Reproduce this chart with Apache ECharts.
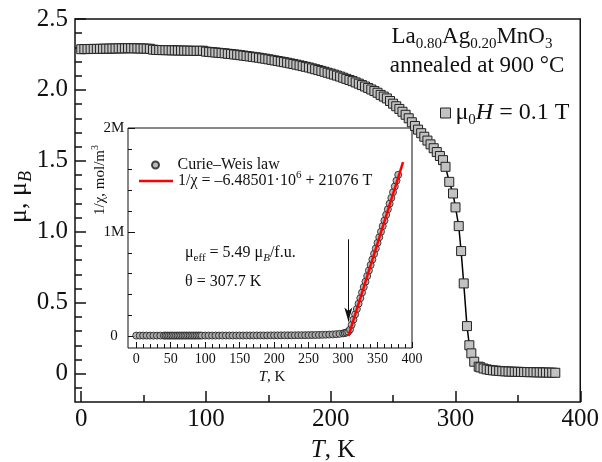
<!DOCTYPE html>
<html>
<head>
<meta charset="utf-8">
<script src="https://cdn.jsdelivr.net/npm/echarts@6/dist/echarts.min.js"></script>
<style>
html, body { margin: 0; padding: 0; background: #fff; }
#chart { width: 602px; height: 462px; }
</style>
</head>
<body>
<div id="chart"></div>
<script>
// Magnetic moment per formula unit vs temperature (mu0H = 0.1 T)
const tempK = [
  0, 2.5, 5, 7.5, 10, 12.5, 15, 17.5, 20, 22.5,
  25, 27.5, 30, 32.5, 35, 37.5, 40, 42.5, 45, 47.5,
  50, 52.5, 55, 57.5, 60, 62.5, 65, 67.5, 70, 72.5,
  75, 77.5, 80, 82.5, 85, 87.5, 90, 92.5, 95, 97.5,
  100, 102.5, 105, 107.5, 110, 112.5, 115, 117.5, 120, 122.5,
  125, 127.5, 130, 132.5, 135, 137.5, 140, 142.5, 145, 147.5,
  150, 152.5, 155, 157.5, 160, 162.5, 165, 167.5, 170, 172.5,
  175, 177.5, 180, 182.5, 185, 187.5, 190, 192.5, 195, 197.5,
  200, 202.5, 205, 207.5, 210, 212.5, 215, 217.5, 220, 222.5,
  225, 227.5, 230, 232.5, 235, 237.5, 240, 242.5, 245, 247.5,
  250, 252.5, 255, 257.5, 260, 262.5, 265, 267.5, 270, 272.5,
  275, 277.5, 280, 282.5, 285, 287.5, 290,
  292, 295, 298, 300, 302.6, 304.5, 306.6, 309.2, 311.1, 312.7, 315, 318.6,
  320, 322.5, 325, 327.5, 330, 332.5, 335, 337.5, 340, 342.5,
  345, 347.5, 350, 352.5, 355, 357.5, 360, 362.5, 365, 367.5,
  370, 372.5, 375, 377.5, 380
];
const momentMuB = [
  2.287, 2.288, 2.288, 2.289, 2.289, 2.289, 2.290, 2.290, 2.291, 2.291,
  2.292, 2.292, 2.293, 2.293, 2.293, 2.294, 2.294, 2.293, 2.293, 2.292,
  2.292, 2.291, 2.290, 2.284, 2.282, 2.281, 2.281, 2.280, 2.280, 2.279,
  2.279, 2.278, 2.278, 2.277, 2.277, 2.276, 2.276, 2.275, 2.276, 2.276,
  2.270, 2.268, 2.266, 2.264, 2.262, 2.260, 2.258, 2.255, 2.253, 2.250,
  2.248, 2.245, 2.242, 2.239, 2.236, 2.233, 2.230, 2.227, 2.223, 2.220,
  2.216, 2.212, 2.208, 2.204, 2.200, 2.196, 2.192, 2.187, 2.183, 2.178,
  2.173, 2.168, 2.163, 2.158, 2.152, 2.146, 2.140, 2.134, 2.128, 2.121,
  2.115, 2.108, 2.101, 2.094, 2.086, 2.078, 2.070, 2.062, 2.053, 2.044,
  2.034, 2.024, 2.014, 2.003, 1.992, 1.980, 1.965, 1.953, 1.940, 1.922,
  1.903, 1.885, 1.866, 1.846, 1.825, 1.800, 1.772, 1.746, 1.720, 1.695,
  1.670, 1.643, 1.616, 1.589, 1.562, 1.534, 1.505,
  1.458, 1.352, 1.270, 1.172, 1.040, 0.864, 0.636, 0.335, 0.200, 0.143, 0.084, 0.049,
  0.044, 0.036, 0.030, 0.026, 0.023, 0.021, 0.019, 0.017, 0.016, 0.015,
  0.014, 0.013, 0.013, 0.012, 0.011, 0.011, 0.010, 0.010, 0.009, 0.009,
  0.008, 0.008, 0.007, 0.007, 0.006
];

// Inverse susceptibility (mol/m^3) used for the Curie-Weiss analysis
const invChiT = [
  0, 5, 10, 15, 20, 25, 30, 35, 40,
  42.5, 45, 47.5, 50, 52.5, 55, 57.5, 60, 62.5, 65, 67.5,
  70, 72.5, 75, 77.5, 80, 82.5, 85, 87.5, 90, 92.5, 95,
  100, 105, 110, 115, 120, 125, 130, 135, 140, 145,
  150, 155, 160, 165, 170, 175, 180, 185, 190, 195,
  200, 205, 210, 215, 220, 225, 230, 235, 240, 245,
  250, 255, 260, 265, 270, 275, 280, 285, 290, 295, 300,
  302.5, 305, 307.5,
  310, 312.5, 315, 317.5, 320, 322.5, 325, 327.5, 330, 332.5,
  335, 337.5, 340, 342.5, 345, 347.5, 350, 352.5, 355, 357.5,
  360, 362.5, 365, 367.5, 370, 372.5, 375, 377.5, 380
];
const invChi = [
  4200, 4300, 4300, 4300, 4200, 4200, 4200, 4200, 4200,
  4300, 4300, 4300, 4400, 4400, 4400, 4400, 4400, 4400, 4400, 4500,
  4500, 4500, 4500, 4500, 4500, 4500, 4500, 4600, 4600, 4600, 4600,
  4600, 4700, 4700, 4800, 4800, 4900, 4900, 5000, 5100, 5100,
  5200, 5300, 5400, 5500, 5600, 5700, 5800, 5900, 6000, 6100,
  6300, 6400, 6600, 6800, 7000, 7200, 7500, 7800, 8100, 8500,
  8900, 9400, 10000, 10700, 11500, 12600, 14000, 15700, 18000, 21000, 25000,
  29000, 34000, 42000,
  62000, 108000, 158000, 208000, 260000, 311000, 364000, 418000, 471000, 523000,
  577000, 630000, 683000, 736000, 790000, 842000, 896000, 950000, 1003000, 1057000,
  1110000, 1165000, 1219000, 1273000, 1328000, 1383000, 1438000, 1494000, 1550000
];

// Curie-Weiss fit: 1/chi = intercept + slope * T
const fitIntercept = -6.48501e6;
const fitSlope = 21076;
const fitTRange = [307.7, 387];
const thetaK = 307.7;
const arrowFrom = 930000;
const arrowTo = 140000;

// Tick values
const mainXTicks = [0, 100, 200, 300, 400];
const mainXMinor = [50, 150, 250, 350];
const mainYTicks = [0, 0.5, 1.0, 1.5, 2.0, 2.5];
const insetXTicks = [0, 50, 100, 150, 200, 250, 300, 350, 400];
const insetYTicks = [0, 1e6, 2e6];
const insetYTickLabels = ['0', '1M', '2M'];

const INK = '#111';
const SERIF = '"Liberation Serif", "Times New Roman", serif';

function between(from, to, step, skipEvery) {
  const out = [];
  for (let i = 0; from + i * step <= to + 1e-9; i++) {
    const v = Math.round((from + i * step) * 1e6) / 1e6;
    const q = v / skipEvery;
    if (Math.abs(q - Math.round(q)) > 1e-6) out.push(v);
  }
  return out;
}

function valueAxis(gridIndex, position, min, max, ticks, tickLen, tickWidth, label) {
  return {
    type: 'value', gridIndex: gridIndex, position: position, min: min, max: max,
    axisLine: { show: false, onZero: false },
    splitLine: { show: false },
    axisTick: { show: true, inside: true, length: tickLen, customValues: ticks,
                lineStyle: { color: INK, width: tickWidth } },
    axisLabel: label
      ? Object.assign({ show: true, customValues: ticks, color: INK, fontFamily: SERIF }, label)
      : { show: false }
  };
}

const mainData = tempK.map((t, i) => [t, momentMuB[i]]);
const invChiData = invChiT.map((t, i) => [t, invChi[i]]);
const fitData = fitTRange.map(t => [t, fitIntercept + fitSlope * t]);

const chart = echarts.init(document.getElementById('chart'));

const option = {
  animation: false,
  backgroundColor: '#fff',
  grid: [
    { left: 75, top: 19, width: 509, height: 383, show: true,
      borderColor: INK, borderWidth: 1.5, backgroundColor: 'transparent' },
    { left: 128, top: 128, width: 284, height: 220, show: true,
      borderColor: INK, borderWidth: 1, backgroundColor: '#fff' }
  ],
  xAxis: [
    valueAxis(0, 'bottom', -5, 400, mainXTicks, 11, 1.5, { fontSize: 25, margin: 5 }),
    valueAxis(0, 'bottom', -5, 400, mainXMinor, 7, 1.5, null),
    valueAxis(1, 'bottom', -12, 400, insetXTicks, 6, 1, { fontSize: 14, margin: 4 }),
    valueAxis(1, 'bottom', -12, 400, between(10, 390, 10, 50), 4, 1, null)
  ],
  yAxis: [
    valueAxis(0, 'left', -0.2, 2.5, mainYTicks, 11, 1.5, {
      fontSize: 25, margin: 7, formatter: v => (v === 0 ? '0' : v.toFixed(1))
    }),
    valueAxis(0, 'left', -0.2, 2.5, between(-0.1, 2.4, 0.1, 0.5), 7, 1.5, null),
    valueAxis(1, 'left', -115000, 2e6, insetYTicks, 7, 1, {
      fontSize: 15, margin: 14, align: 'center',
      formatter: v => insetYTickLabels[insetYTicks.indexOf(v)]
    }),
    valueAxis(1, 'left', -115000, 2e6, between(200000, 1800000, 200000, 1e6), 4, 1, null)
  ],
  legend: [
    {
      data: [{ name: 'magnetization', icon: 'rect',
               itemStyle: { color: '#c2c2c2', borderColor: '#222', borderWidth: 1 } }],
      left: 440, top: 101, padding: 0, itemWidth: 10, itemHeight: 10, selectedMode: false,
      formatter: () => '{t|μ}{s|0}{i|H}{t| = 0.1 T}',
      textStyle: {
        color: INK, fontFamily: SERIF, fontSize: 24,
        rich: {
          t: { fontSize: 24, fontFamily: SERIF, color: INK, lineHeight: 30 },
          i: { fontSize: 24, fontFamily: SERIF, color: INK, fontStyle: 'italic', lineHeight: 30 },
          s: { fontSize: 15, fontFamily: SERIF, color: INK, lineHeight: 11, verticalAlign: 'bottom' }
        }
      }
    },
    {
      data: [{ name: 'inverse susceptibility', icon: 'circle' }],
      left: 151, top: 157, padding: 0, itemWidth: 34, itemHeight: 7, selectedMode: false,
      formatter: () => 'Curie–Weis law',
      textStyle: { color: INK, fontFamily: SERIF, fontSize: 16 }
    },
    {
      data: [{ name: 'Curie-Weiss fit', icon: 'rect', itemStyle: { color: '#ff0000' } }],
      left: 139, top: 170, padding: 0, itemWidth: 34, itemHeight: 2.5, selectedMode: false,
      formatter: () => '{t|1/χ = –6.48501·10}{p|6}{t| + 21076 T}',
      textStyle: {
        color: INK, fontFamily: SERIF, fontSize: 16,
        rich: {
          t: { fontSize: 16, fontFamily: SERIF, color: INK, lineHeight: 22 },
          p: { fontSize: 11, fontFamily: SERIF, color: INK, lineHeight: 11, verticalAlign: 'top' }
        }
      }
    }
  ],
  series: [
    {
      name: 'magnetization', type: 'line', xAxisIndex: 0, yAxisIndex: 0,
      data: mainData, symbol: 'rect', symbolSize: 9, showSymbol: true, showAllSymbol: true,
      lineStyle: { color: '#000', width: 1.5 },
      itemStyle: { color: '#c2c2c2', borderColor: '#222', borderWidth: 1 },
      z: 3
    },
    {
      name: 'inverse susceptibility', type: 'scatter', xAxisIndex: 2, yAxisIndex: 2,
      data: invChiData, symbol: 'circle', symbolSize: 7,
      itemStyle: { color: '#a9a9a9', borderColor: '#1a1a1a', borderWidth: 1 },
      z: 4
    },
    {
      name: 'Curie-Weiss fit', type: 'line', xAxisIndex: 2, yAxisIndex: 2,
      data: fitData, symbol: 'none',
      lineStyle: { color: '#ff0000', width: 2.5 },
      itemStyle: { color: '#ff0000' },
      z: 5,
      markLine: {
        silent: true, symbol: ['none', 'arrow'], symbolSize: [6, 14],
        lineStyle: { color: INK, width: 1, type: 'solid' },
        label: { show: false },
        data: [[{ coord: [thetaK, arrowFrom] }, { coord: [thetaK, arrowTo] }]]
      }
    }
  ],
  graphic: [
    {
      type: 'text', x: 472, y: 37,
      style: {
        text: '{n|La}{s|0.80}{n|Ag}{s|0.20}{n|MnO}{s|3}',
        align: 'center', verticalAlign: 'middle', fill: INK,
        fontFamily: SERIF, fontSize: 23,
        rich: {
          n: { fontSize: 23, fontFamily: SERIF, lineHeight: 30 },
          s: { fontSize: 15, fontFamily: SERIF, lineHeight: 11, verticalAlign: 'bottom' }
        }
      }
    },
    {
      type: 'text', x: 477, y: 66,
      style: { text: 'annealed at 900 °C', align: 'center', verticalAlign: 'middle',
               fill: INK, fontFamily: SERIF, fontSize: 23 }
    },
    {
      type: 'text', x: 185, y: 253,
      style: {
        text: '{a|μ}{s|eff}{a| = 5.49 μ}{b|B}{a|/f.u.}',
        align: 'left', verticalAlign: 'middle', fill: INK, fontFamily: SERIF, fontSize: 16,
        rich: {
          a: { fontSize: 16, fontFamily: SERIF, lineHeight: 22 },
          s: { fontSize: 11, fontFamily: SERIF, lineHeight: 9, verticalAlign: 'bottom' },
          b: { fontSize: 11, fontFamily: SERIF, fontStyle: 'italic', lineHeight: 9, verticalAlign: 'bottom' }
        }
      }
    },
    {
      type: 'text', x: 185, y: 282,
      style: { text: 'θ = 307.7 K', align: 'left', verticalAlign: 'middle',
               fill: INK, fontFamily: SERIF, fontSize: 16 }
    },
    {
      type: 'text', x: 333, y: 450,
      style: {
        text: '{i|T}{a|, K}', align: 'center', verticalAlign: 'middle', fill: INK,
        fontFamily: SERIF, fontSize: 25,
        rich: {
          i: { fontSize: 25, fontFamily: SERIF, fontStyle: 'italic' },
          a: { fontSize: 25, fontFamily: SERIF }
        }
      }
    },
    {
      type: 'text', x: 19, y: 197, rotation: Math.PI / 2,
      style: {
        text: '{a|μ, μ}{b|B}', align: 'center', verticalAlign: 'middle', fill: INK,
        fontFamily: SERIF, fontSize: 26,
        rich: {
          a: { fontSize: 26, fontFamily: SERIF, lineHeight: 32 },
          b: { fontSize: 18, fontFamily: SERIF, fontStyle: 'italic', lineHeight: 13, verticalAlign: 'bottom' }
        }
      }
    },
    {
      type: 'text', x: 272, y: 377,
      style: {
        text: '{i|T}{a|, K}', align: 'center', verticalAlign: 'middle', fill: INK,
        fontFamily: SERIF, fontSize: 15,
        rich: {
          i: { fontSize: 15, fontFamily: SERIF, fontStyle: 'italic' },
          a: { fontSize: 15, fontFamily: SERIF }
        }
      }
    },
    {
      type: 'text', x: 100, y: 180, rotation: Math.PI / 2,
      style: {
        text: '{a|1/χ, mol/m}{p|3}', align: 'center', verticalAlign: 'middle', fill: INK,
        fontFamily: SERIF, fontSize: 15,
        rich: {
          a: { fontSize: 15, fontFamily: SERIF, lineHeight: 20 },
          p: { fontSize: 10, fontFamily: SERIF, lineHeight: 10, verticalAlign: 'top' }
        }
      }
    }
  ]
};

chart.setOption(option);
</script>
</body>
</html>
